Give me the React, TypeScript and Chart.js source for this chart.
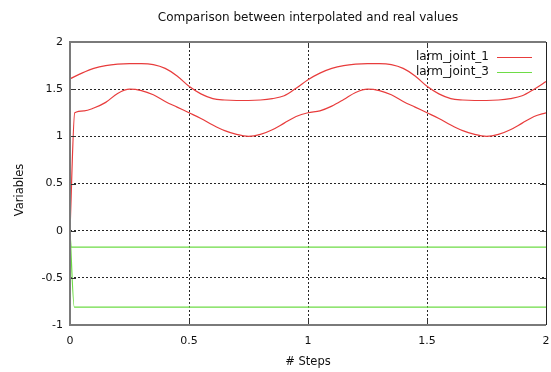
import React, { useEffect, useRef } from "react";
import { Chart, registerables } from "chart.js";

Chart.register(...registerables);

const TITLE = "Comparison between interpolated and real values";
const X_TITLE = "# Steps";
const Y_TITLE = "Variables";
const LEGEND_LABELS = ["larm_joint_1", "larm_joint_3"];

// red, smooth upper curve
const red1X = [0, 0.05, 0.1, 0.15, 0.2, 0.25, 0.3, 0.35, 0.4, 0.45, 0.5, 0.55, 0.6, 0.65, 0.7, 0.75, 0.8, 0.85, 0.9, 0.95,
  1.0, 1.05, 1.1, 1.15, 1.2, 1.25, 1.3, 1.35, 1.4, 1.45, 1.5, 1.55, 1.6, 1.65, 1.7, 1.75, 1.8, 1.85, 1.9, 1.95, 2.0];
const red1Y = [1.61, 1.67, 1.72, 1.75, 1.765, 1.77, 1.77, 1.76, 1.72, 1.64, 1.53, 1.45, 1.40, 1.385, 1.38, 1.38, 1.385, 1.40, 1.43, 1.51,
  1.60, 1.67, 1.72, 1.75, 1.765, 1.77, 1.77, 1.76, 1.72, 1.64, 1.53, 1.45, 1.40, 1.385, 1.38, 1.38, 1.385, 1.40, 1.43, 1.50, 1.58];

// red, lower curve
const red2X = [0, 0.02, 0.06, 0.1, 0.15, 0.2, 0.25, 0.3, 0.35, 0.4, 0.45, 0.5, 0.55, 0.6, 0.65, 0.7, 0.75, 0.8, 0.85, 0.9, 0.95,
  1.0, 1.05, 1.1, 1.15, 1.2, 1.25, 1.3, 1.35, 1.4, 1.45, 1.5, 1.55, 1.6, 1.65, 1.7, 1.75, 1.8, 1.85, 1.9, 1.95, 2.0];
const red2Y = [0, 1.25, 1.27, 1.30, 1.36, 1.455, 1.50, 1.485, 1.44, 1.37, 1.31, 1.25, 1.19, 1.12, 1.06, 1.02, 1.0, 1.02, 1.07, 1.14, 1.21,
  1.25, 1.27, 1.32, 1.39, 1.465, 1.50, 1.485, 1.44, 1.37, 1.31, 1.25, 1.19, 1.12, 1.06, 1.02, 1.0, 1.02, 1.07, 1.14, 1.21, 1.25];

// green series
const green1X = [0, 0.004, 2.0];
const green1Y = [0, -0.175, -0.175];
const green2X = [0, 0.018, 2.0];
const green2Y = [0, -0.81, -0.81];

const X_TICKS = [0, 0.5, 1, 1.5, 2];
const Y_TICKS = [-1, -0.5, 0, 0.5, 1, 1.5, 2];

const RED = "rgb(232,60,60)";
const GREEN = "rgb(110,220,70)";
const FONT = "'DejaVu Sans', sans-serif";

const pts = (xs: number[], ys: number[]) => xs.map((x, i) => ({ x, y: ys[i] }));

const decorPlugin = {
  id: "decor",
  afterDraw(chart: any) {
    const { ctx, chartArea: a, scales } = chart;
    const xs = scales.x, ys = scales.y;
    ctx.save();
    // inward ticks
    ctx.strokeStyle = "#333";
    ctx.lineWidth = 1;
    ctx.setLineDash([]);
    const L = 6;
    X_TICKS.forEach((v) => {
      const px = Math.round(xs.getPixelForValue(v)) + 0.5;
      ctx.beginPath();
      ctx.moveTo(px, a.bottom); ctx.lineTo(px, a.bottom - L);
      ctx.moveTo(px, a.top); ctx.lineTo(px, a.top + L);
      ctx.stroke();
    });
    Y_TICKS.forEach((v) => {
      const py = Math.round(ys.getPixelForValue(v)) + 0.5;
      ctx.beginPath();
      ctx.moveTo(a.left, py); ctx.lineTo(a.left + L, py);
      ctx.moveTo(a.right, py); ctx.lineTo(a.right - L, py);
      ctx.stroke();
    });
    // frame
    ctx.strokeStyle = "#7a7a7a";
    ctx.lineWidth = 2;
    ctx.beginPath();
    ctx.moveTo(a.right, a.top);
    ctx.lineTo(a.left, a.top);
    ctx.lineTo(a.left, a.bottom);
    ctx.lineTo(a.right, a.bottom);
    ctx.stroke();
    ctx.strokeStyle = "#222";
    ctx.lineWidth = 1;
    ctx.beginPath();
    ctx.moveTo(a.right + 0.5, a.top);
    ctx.lineTo(a.right + 0.5, a.bottom);
    ctx.stroke();

    // title
    ctx.fillStyle = "#111";
    ctx.textAlign = "center";
    ctx.textBaseline = "middle";
    ctx.font = `12px ${FONT}`;
    ctx.fillText(TITLE, (a.left + a.right) / 2, 18);
    // x title
    ctx.font = `11.5px ${FONT}`;
    ctx.fillText(X_TITLE, (a.left + a.right) / 2, 362);
    // y title
    ctx.save();
    ctx.translate(20, 190);
    ctx.rotate(-Math.PI / 2);
    ctx.fillText(Y_TITLE, 0, 0);
    ctx.restore();

    // legend
    const colors = [RED, GREEN];
    ctx.font = `12px ${FONT}`;
    ctx.textAlign = "right";
    LEGEND_LABELS.forEach((lab, i) => {
      const y = 57 + i * 15;
      ctx.fillStyle = "#111";
      ctx.fillText(lab, 489, y);
      ctx.strokeStyle = colors[i];
      ctx.lineWidth = 1.2;
      ctx.beginPath();
      ctx.moveTo(497, y + 0.5);
      ctx.lineTo(532, y + 0.5);
      ctx.stroke();
    });
    ctx.restore();
  },
};

export default function App() {
  const ref = useRef<HTMLCanvasElement>(null);
  useEffect(() => {
    document.body.style.margin = "0";
    const edgeX = (c: any) => (c.tick && (c.tick.value === 0 || c.tick.value === 2) ? "rgba(0,0,0,0)" : "rgba(0,0,0,0.85)");
    const edgeY = (c: any) => (c.tick && (c.tick.value === -1 || c.tick.value === 2) ? "rgba(0,0,0,0)" : "rgba(0,0,0,0.85)");
    const chart = new Chart(ref.current!, {
      type: "scatter",
      data: {
        datasets: [
          { data: pts(red1X, red1Y), borderColor: RED },
          { data: pts(red2X, red2Y), borderColor: RED },
          { data: pts(green1X, green1Y), borderColor: GREEN },
          { data: pts(green2X, green2Y), borderColor: GREEN },
        ].map((d) => ({
          ...d,
          showLine: true,
          pointRadius: 0,
          borderWidth: 1.2,
          cubicInterpolationMode: "monotone" as const,
          fill: false,
        })),
      },
      options: {
        responsive: false,
        animation: false,
        layout: { padding: { top: 42, right: 5, left: 0, bottom: 0 } },
        plugins: { legend: { display: false }, tooltip: { enabled: false }, title: { display: false } },
        scales: {
          x: {
            type: "linear",
            min: 0,
            max: 2,
            afterFit: (s: any) => { s.height = 47; s.paddingLeft = 0; s.paddingRight = 0; },
            afterBuildTicks: (s: any) => { s.ticks = X_TICKS.map((v) => ({ value: v })); },
            ticks: {
              padding: 10,
              color: "#111",
              font: { family: FONT, size: 11 },
              callback: (v: any) => String(v),
              maxRotation: 0,
            },
            grid: { color: edgeX, lineWidth: 1, drawTicks: false },
            border: { display: false, dash: [2, 2] },
          },
          y: {
            type: "linear",
            min: -1,
            max: 2,
            afterFit: (s: any) => { s.width = 70; s.paddingTop = 0; s.paddingBottom = 0; },
            afterBuildTicks: (s: any) => { s.ticks = Y_TICKS.map((v) => ({ value: v })); },
            ticks: {
              padding: 7,
              color: "#111",
              font: { family: FONT, size: 11 },
              callback: (v: any) => String(v),
            },
            grid: { color: edgeY, lineWidth: 1, drawTicks: false },
            border: { display: false, dash: [2, 2] },
          },
        },
      },
      plugins: [decorPlugin],
    });
    return () => chart.destroy();
  }, []);
  return <canvas ref={ref} width={551} height={372} style={{ display: "block" }} />;
}
